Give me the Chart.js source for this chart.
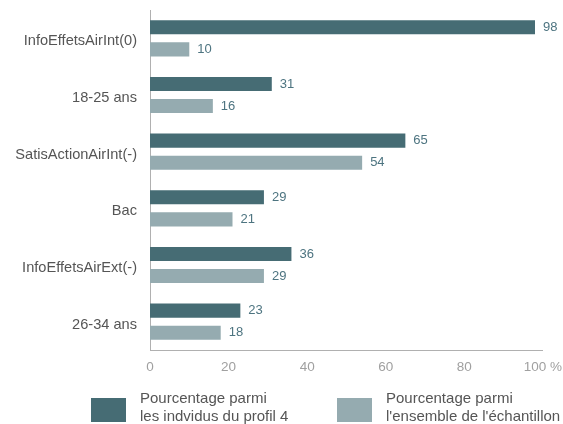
<!DOCTYPE html>
<html>
<head>
<meta charset="utf-8">
<script src="https://cdn.jsdelivr.net/npm/chart.js@4/dist/chart.umd.min.js"></script>
<style>
  html, body { margin: 0; padding: 0; background: #fff; }
  #wrap { width: 563px; height: 424px; }
</style>
</head>
<body>
<div id="wrap"><canvas id="chart"></canvas></div>
<script>
var categories = ['InfoEffetsAirInt(0)', '18-25 ans', 'SatisActionAirInt(-)', 'Bac', 'InfoEffetsAirExt(-)', '26-34 ans'];
var profil4 = [98, 31, 65, 29, 36, 23];
var ensemble = [10, 16, 54, 21, 29, 18];
var seriesNames = [
    ['Pourcentage parmi', 'les indvidus du profil 4'],
    ['Pourcentage parmi', "l'ensemble de l'échantillon"]
];
var xTicks = [0, 20, 40, 60, 80, 100];

var FONT = '"Liberation Sans", Arial, sans-serif';

// valeurs a droite des barres
var valueLabels = {
    id: 'valueLabels',
    afterDatasetsDraw: function (chart) {
        var ctx = chart.ctx;
        ctx.save();
        ctx.font = '13px ' + FONT;
        ctx.fillStyle = '#4d7480';
        ctx.textAlign = 'left';
        ctx.textBaseline = 'middle';
        chart.data.datasets.forEach(function (ds, i) {
            chart.getDatasetMeta(i).data.forEach(function (bar, j) {
                ctx.fillText(ds.data[j], bar.x + 8, bar.y);
            });
        });
        ctx.restore();
    }
};

// legende en bas, texte sur deux lignes
var bottomLegend = {
    id: 'bottomLegend',
    afterDraw: function (chart) {
        var ctx = chart.ctx;
        var pos = [91, 337];
        ctx.save();
        ctx.font = '15px ' + FONT;
        ctx.textBaseline = 'middle';
        ctx.textAlign = 'left';
        chart.data.datasets.forEach(function (ds, i) {
            var x = pos[i];
            ctx.fillStyle = ds.backgroundColor;
            ctx.fillRect(x, 398, 35, 24);
            ctx.fillStyle = '#555';
            ds.label.forEach(function (line, k) {
                ctx.fillText(line, x + 49, 399 + k * 18);
            });
        });
        ctx.restore();
    }
};

new Chart(document.getElementById('chart'), {
    type: 'bar',
    data: {
        labels: categories,
        datasets: [{
            label: seriesNames[0],
            data: profil4,
            backgroundColor: '#466c74',
            categoryPercentage: 0.78,
            barPercentage: 0.64
        }, {
            label: seriesNames[1],
            data: ensemble,
            backgroundColor: '#95abb0',
            categoryPercentage: 0.78,
            barPercentage: 0.64
        }]
    },
    options: {
        indexAxis: 'y',
        responsive: true,
        maintainAspectRatio: false,
        animation: false,
        layout: { padding: { top: 10, right: 16, bottom: 48, left: 0 } },
        plugins: {
            legend: { display: false },
            tooltip: { enabled: false }
        },
        scales: {
            x: {
                min: 0,
                max: 100,
                afterBuildTicks: function (scale) {
                    scale.ticks = xTicks.map(function (v) { return { value: v }; });
                },
                afterFit: function (scale) { scale.height = 26; },
                grid: { display: false },
                border: { color: '#b0b0b0' },
                ticks: {
                    color: '#a0a0a0',
                    font: { family: FONT, size: 13.5 },
                    padding: 1,
                    maxRotation: 0,
                    callback: function (v) { return v === 100 ? '100 %' : v; }
                }
            },
            y: {
                afterFit: function (scale) {
                    scale.width = 150;
                    scale.paddingTop = 0;
                    scale.paddingBottom = 0;
                },
                grid: { display: false },
                border: { color: '#b0b0b0' },
                ticks: {
                    color: '#555',
                    font: { family: FONT, size: 14.6 },
                    padding: 5,
                    labelOffset: 3
                }
            }
        }
    },
    plugins: [valueLabels, bottomLegend]
});
</script>
</body>
</html>
